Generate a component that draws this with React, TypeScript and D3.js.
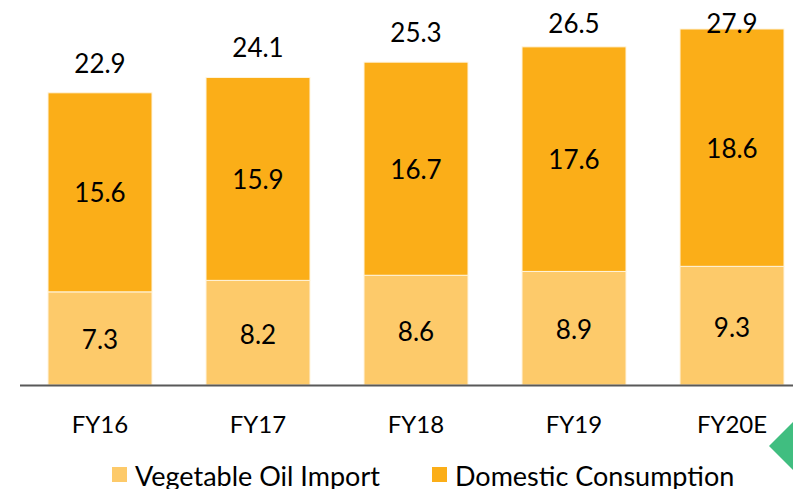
import React, { useEffect, useRef } from "react";
import * as d3 from "d3";

const years = ["FY16", "FY17", "FY18", "FY19", "FY20E"];
const importValues = [7.3, 8.2, 8.6, 8.9, 9.3];
const domesticValues = [15.6, 15.9, 16.7, 17.6, 18.6];
const totalValues = [22.9, 24.1, 25.3, 26.5, 27.9];
const seriesNames = ["Vegetable Oil Import", "Domestic Consumption"];

const lightColor = "#fdca6a";
const darkColor = "#fbae18";
const font = "Lato, 'Open Sans', sans-serif";

export default function App() {
  const ref = useRef<SVGSVGElement>(null);

  useEffect(() => {
    const width = 793;
    const height = 489;
    const baseline = 385;

    const svg = d3.select(ref.current).attr("width", width).attr("height", height);
    svg.selectAll("*").remove();

    const x = d3
      .scaleBand()
      .domain(years)
      .range([21, 811])
      .paddingInner(0.342)
      .paddingOuter(0.171);

    const y = d3.scaleLinear().domain([0, 27.9]).range([baseline, 29]);

    const rows = years.map((yr, i) => ({
      yr,
      imp: importValues[i],
      dom: domesticValues[i],
      total: totalValues[i],
    }));

    // import segment
    svg
      .selectAll(".imp")
      .data(rows)
      .enter()
      .append("rect")
      .attr("x", (d) => x(d.yr)!)
      .attr("y", (d) => y(d.imp))
      .attr("width", x.bandwidth())
      .attr("height", (d) => y(0) - y(d.imp))
      .style("fill", lightColor)
      .style("stroke", "#fff4dc")
      .style("stroke-width", 1);

    // domestic segment
    svg
      .selectAll(".dom")
      .data(rows)
      .enter()
      .append("rect")
      .attr("x", (d) => x(d.yr)!)
      .attr("y", (d) => y(d.imp + d.dom))
      .attr("width", x.bandwidth())
      .attr("height", (d) => y(d.imp) - y(d.imp + d.dom))
      .style("fill", darkColor)
      .style("stroke", "#fff4dc")
      .style("stroke-width", 1);

    const label = (cls: string, fy: (d: any) => number, txt: (d: any) => string, central: boolean) =>
      svg
        .selectAll(cls)
        .data(rows)
        .enter()
        .append("text")
        .attr("x", (d) => x(d.yr)! + x.bandwidth() / 2)
        .attr("y", fy)
        .attr("text-anchor", "middle")
        .attr("dominant-baseline", central ? "central" : "auto")
        .style("font-family", font)
        .style("font-size", "26px")
        .style("fill", "#000")
        .text(txt);

    label(".imp-l", (d) => (y(0) + y(d.imp)) / 2 + 1, (d) => d.imp.toFixed(1), true);
    label(".dom-l", (d) => (y(d.imp) + y(d.imp + d.dom)) / 2, (d) => d.dom.toFixed(1), true);
    // totals sit above the bar, kept inside the plot area
    label(".tot-l", (d) => Math.max(y(d.imp + d.dom) - 20, 33), (d) => d.total.toFixed(1), false);

    // axis line
    svg
      .append("line")
      .attr("x1", 20)
      .attr("x2", width)
      .attr("y1", baseline + 0.5)
      .attr("y2", baseline + 0.5)
      .style("stroke", "#595959")
      .style("stroke-width", 2);

    svg
      .selectAll(".xl")
      .data(years)
      .enter()
      .append("text")
      .attr("x", (d) => x(d)! + x.bandwidth() / 2)
      .attr("y", 433)
      .attr("text-anchor", "middle")
      .style("font-family", font)
      .style("font-size", "24px")
      .style("fill", "#000")
      .text((d) => d);

    // legend
    const legendX = [112, 432];
    const legendColors = [lightColor, darkColor];
    seriesNames.forEach((name, i) => {
      svg
        .append("rect")
        .attr("x", legendX[i])
        .attr("y", 467)
        .attr("width", 15)
        .attr("height", 15)
        .style("fill", legendColors[i]);
      svg
        .append("text")
        .attr("x", legendX[i] + 23)
        .attr("y", 486)
        .style("font-family", font)
        .style("font-size", "27px")
        .style("fill", "#000")
        .text(name);
    });

    // decorative green marker
    svg
      .append("polygon")
      .attr("points", "769,446 795,420 821,446 795,472")
      .style("fill", "#40be80");
  }, []);

  return (
    <div style={{ position: "absolute", left: 0, top: 0 }}>
      <svg ref={ref} style={{ display: "block" }}></svg>
    </div>
  );
}
